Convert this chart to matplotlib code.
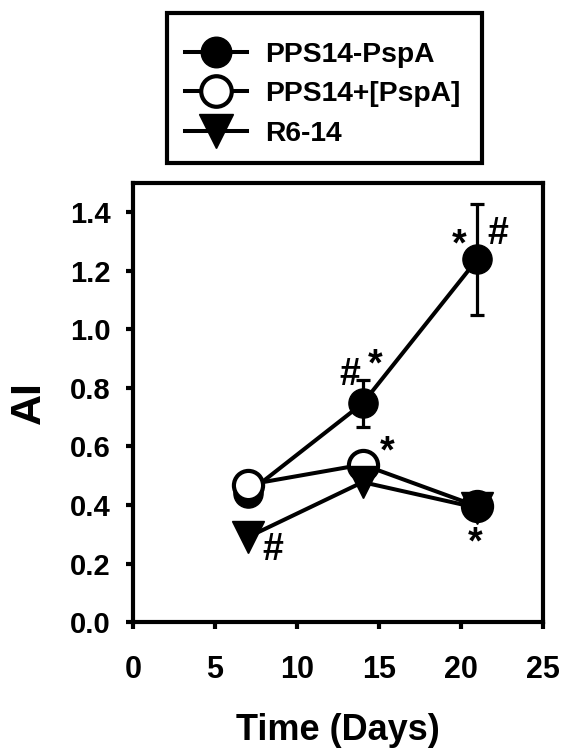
import matplotlib
matplotlib.use("Agg")
import matplotlib.pyplot as plt
from matplotlib.lines import Line2D
from matplotlib.patches import Rectangle

plt.rcParams['font.family'] = ['Liberation Sans', 'DejaVu Sans']
plt.rcParams['font.weight'] = 'bold'

# data
days = [7, 14, 21]
pps14_pspa = [0.44, 0.747, 1.24]
pps14_pspa_err = [0.02, 0.08, 0.19]
pps14_plus = [0.469, 0.538, 0.395]
r6_14 = [0.29, 0.478, 0.39]
series_labels = ['PPS14-PspA', 'PPS14+[PspA]', 'R6-14']

# significance marks: (x, y, text)
marks = [(8.55, 0.245, '#'), (15.5, 0.58, '*'), (20.85, 0.27, '*'),
         (13.2, 0.845, '#'), (14.75, 0.875, '*'),
         (19.9, 1.285, '*'), (22.25, 1.325, '#')]

W, H = 564, 748
fig = plt.figure(figsize=(W / 100, H / 100), dpi=100)
ax = fig.add_axes([0.2358, 0.1684, 0.727, 0.5869])

lw = 2.9
ms = 21
ax.errorbar(days, pps14_pspa, yerr=pps14_pspa_err, fmt='-o', color='black',
            lw=lw, ms=ms, mfc='black', mec='black', elinewidth=2.3,
            capsize=5, capthick=2.3, zorder=3)
ax.plot(days, pps14_plus, '-o', color='black', lw=lw, ms=ms, mfc='white',
        mec='black', mew=3, zorder=4)
ax.plot(days, r6_14, '-v', color='black', lw=lw, ms=ms + 2, mfc='black',
        mec='black', zorder=5)
# at day 21 the symbols overlap into one dark blob
ax.plot(days, pps14_plus, 'o', color='black', ms=ms, markevery=[2], zorder=6)

for x, y, t in marks:
    ax.text(x, y, t, fontsize=27, fontweight='bold', ha='center', va='center', zorder=7)

ax.set_xlim(0, 25)
ax.set_ylim(0, 1.5)
ax.set_xticks([0, 5, 10, 15, 20, 25])
ax.set_yticks([0.0, 0.2, 0.4, 0.6, 0.8, 1.0, 1.2, 1.4])
ax.set_yticklabels(['%.1f' % v for v in ax.get_yticks()])
for s in ax.spines.values():
    s.set_linewidth(3)
ax.tick_params(axis='both', direction='out', length=5, width=3)
ax.tick_params(axis='y', labelsize=21, pad=11)
ax.tick_params(axis='x', labelsize=22, pad=19)

ax.set_xlabel('Time (Days)', fontsize=26, fontweight='bold', labelpad=20)
ax.set_ylabel('AI', fontsize=31, fontweight='bold', labelpad=15)

handles = [
    Line2D([], [], color='black', lw=lw, marker='o', ms=ms + 1, mfc='black', mec='black'),
    Line2D([], [], color='black', lw=lw, marker='o', ms=ms + 1, mfc='white', mec='black', mew=3),
    Line2D([], [], color='black', lw=lw, marker='v', ms=ms + 3, mfc='black', mec='black'),
]
leg = fig.legend(handles=handles, labels=series_labels,
                 loc='upper left', bbox_to_anchor=(185 / W, 1 - 42 / H),
                 fontsize=20.3, handlelength=2.2, handletextpad=0.65,
                 labelspacing=0.47, borderpad=0, borderaxespad=0,
                 frameon=False)
for t in leg.get_texts():
    t.set_fontweight('bold')

# legend frame
fig.add_artist(Rectangle((167 / W, 1 - 163 / H), (482 - 167) / W, (163 - 13) / H,
                         transform=fig.transFigure, fill=False, lw=3,
                         edgecolor='black'))

fig.savefig('out.png', dpi=100)
